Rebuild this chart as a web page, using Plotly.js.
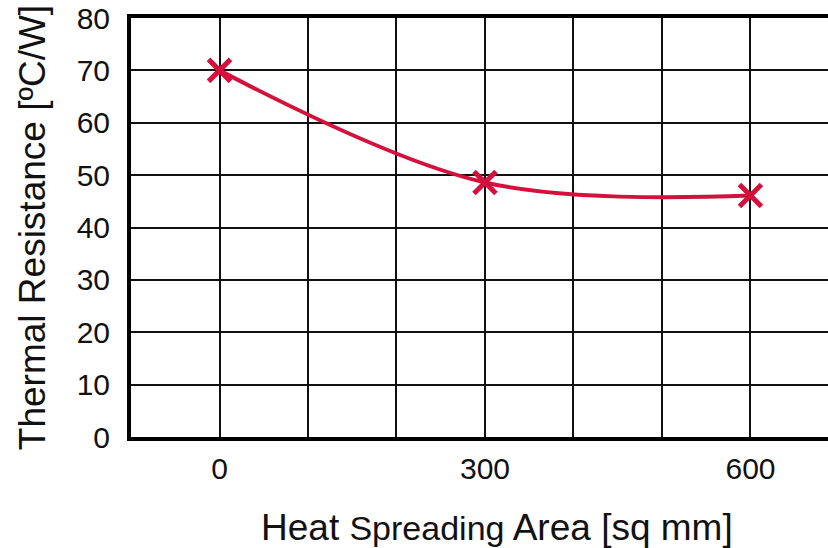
<!DOCTYPE html>
<html>
<head>
<meta charset="utf-8">
<script src="https://cdn.plot.ly/plotly-3.0.1.min.js"></script>
<style>html,body{margin:0;padding:0;background:#fff;}#chart{width:828px;height:548px;}</style>
</head>
<body>
<div id="chart"></div>
<script>
// Data
const areas = [0, 300, 600];
const resistance = [70, 48.6, 46.1];
const xTickVals = [-100, 0, 100, 200, 300, 400, 500, 600];
const xTickText = ['', '0', '', '', '300', '', '', '600'];
const yTickVals = [0, 10, 20, 30, 40, 50, 60, 70, 80];
const xTitle = 'Heat <span style="font-size:34px">Spreading</span> Area [sq mm]';
const yTitle = 'Thermal Resistance [ºC/W]';

const red = '#d4103c';
const trace = {
  x: areas, y: resistance, type: 'scatter', mode: 'lines+markers',
  line: {color: red, width: 4, shape: 'spline', smoothing: 1},
  marker: {symbol: 'x-thin-open', size: 22, line: {color: red, width: 5}, color: red},
  hoverinfo: 'skip', cliponaxis: false
};
const font = 'Liberation Sans, Arial, sans-serif';
const layout = {
  width: 828, height: 548,
  margin: {l: 131, r: 0, t: 18, b: 111},
  paper_bgcolor: '#fff', plot_bgcolor: '#fff',
  showlegend: false,
  font: {family: font, color: '#111'},
  xaxis: {
    range: [-100, 687.6], tickmode: 'array', tickvals: xTickVals, ticktext: xTickText,
    showgrid: true, gridcolor: '#111', gridwidth: 2,
    showline: true, linecolor: '#000', linewidth: 4, mirror: true,
    ticks: '', zeroline: false, ticklabelstandoff: 2,
    tickfont: {family: font, size: 30, color: '#111'}
  },
  yaxis: {
    range: [0, 80], tickmode: 'array', tickvals: yTickVals,
    showgrid: true, gridcolor: '#111', gridwidth: 2,
    showline: true, linecolor: '#000', linewidth: 4, mirror: false,
    ticks: '', zeroline: false, ticklabelstandoff: 11,
    tickfont: {family: font, size: 30, color: '#111'},
    title: {text: yTitle, font: {family: font, size: 37, color: '#111'}, standoff: 21}
  },
  annotations: [{
    text: xTitle, xref: 'paper', yref: 'paper', x: 0.525, y: -0.215,
    xanchor: 'center', yanchor: 'middle', showarrow: false,
    font: {family: font, size: 37, color: '#111'}
  }]
};
Plotly.newPlot('chart', [trace], layout, {staticPlot: true});
</script>
</body>
</html>
